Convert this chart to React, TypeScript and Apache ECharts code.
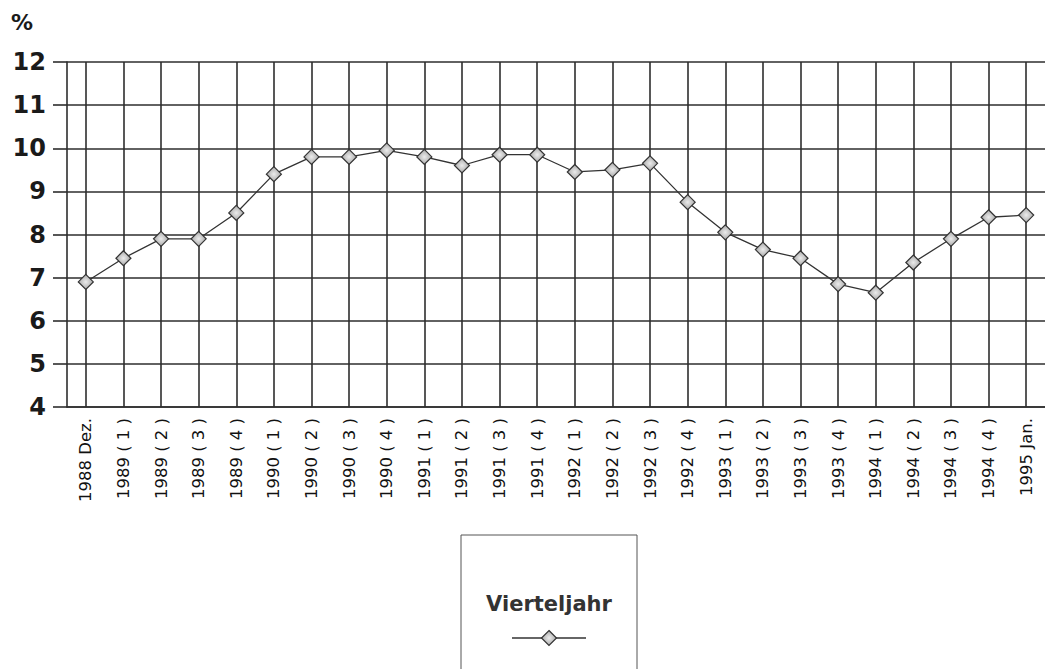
import React, { useEffect, useRef } from "react";
import * as echarts from "echarts";

const categories: string[] = [
  "1988 Dez.",
  "1989 ( 1 )", "1989 ( 2 )", "1989 ( 3 )", "1989 ( 4 )",
  "1990 ( 1 )", "1990 ( 2 )", "1990 ( 3 )", "1990 ( 4 )",
  "1991 ( 1 )", "1991 ( 2 )", "1991 ( 3 )", "1991 ( 4 )",
  "1992 ( 1 )", "1992 ( 2 )", "1992 ( 3 )", "1992 ( 4 )",
  "1993 ( 1 )", "1993 ( 2 )", "1993 ( 3 )", "1993 ( 4 )",
  "1994 ( 1 )", "1994 ( 2 )", "1994 ( 3 )", "1994 ( 4 )",
  "1995 Jan.",
];

const vierteljahr: number[] = [
  6.9,
  7.45, 7.9, 7.9, 8.5,
  9.4, 9.8, 9.8, 9.95,
  9.8, 9.6, 9.85, 9.85,
  9.45, 9.5, 9.65, 8.75,
  8.05, 7.65, 7.45, 6.85,
  6.65, 7.35, 7.9, 8.4,
  8.45,
];

const seriesName = "Vierteljahr";
const unitLabel = "%";

const gridColor = "#2e2e2e";
const markerFill = {
  type: "radial" as const,
  x: 0.5,
  y: 0.5,
  r: 0.5,
  colorStops: [
    { offset: 0, color: "#ececec" },
    { offset: 1, color: "#a8a8a8" },
  ],
};

export default function App() {
  const ref = useRef<HTMLDivElement>(null);

  useEffect(() => {
    if (!ref.current) return;
    const chart = echarts.init(ref.current, null, { renderer: "svg" });
    const font = "'DejaVu Sans', Arial, sans-serif";
    const legX = 549;
    const legY = 638;
    chart.setOption({
      animation: false,
      backgroundColor: "#ffffff",
      grid: { left: 67, top: 62, width: 980, height: 345, containLabel: false },
      xAxis: {
        type: "category",
        data: categories,
        boundaryGap: true,
        axisLine: { show: true, lineStyle: { color: gridColor, width: 1.6 } },
        axisTick: {
          show: true,
          inside: true,
          length: 345,
          alignWithLabel: true,
          interval: 0,
          lineStyle: { color: gridColor, width: 1.6 },
        },
        splitLine: { show: false },
        axisLabel: {
          interval: 0,
          rotate: 90,
          margin: 11,
          fontSize: 16.5,
          fontFamily: font,
          color: "#111",
        },
      },
      yAxis: {
        type: "value",
        min: 4,
        max: 12,
        interval: 1,
        axisLine: { show: true, lineStyle: { color: gridColor, width: 1.6 } },
        axisTick: { show: true, length: 14, lineStyle: { color: gridColor, width: 1.6 } },
        splitLine: { show: true, lineStyle: { color: gridColor, width: 1.6 } },
        axisLabel: {
          margin: 21,
          fontSize: 24,
          fontWeight: "bold",
          fontFamily: font,
          color: "#1a1a1a",
        },
      },
      series: [
        {
          name: seriesName,
          type: "line",
          data: vierteljahr,
          symbol: "diamond",
          symbolSize: 15,
          lineStyle: { color: "#333", width: 1.3 },
          itemStyle: { color: markerFill, borderColor: "#333", borderWidth: 1.2 },
          z: 5,
        },
      ],
      graphic: [
        {
          type: "text",
          left: 11,
          top: 11,
          style: { text: unitLabel, font: `bold 22px ${font}`, fill: "#1a1a1a" },
        },
        {
          type: "rect",
          shape: { x: 461, y: 535, width: 176, height: 150 },
          style: { fill: "none", stroke: "#555", lineWidth: 1 },
        },
        {
          type: "text",
          x: legX,
          y: 604,
          style: {
            text: seriesName,
            font: `bold 21px ${font}`,
            fill: "#333",
            align: "center",
            verticalAlign: "middle",
          },
        },
        {
          type: "line",
          shape: { x1: legX - 37, y1: legY, x2: legX + 37, y2: legY },
          style: { stroke: "#333", lineWidth: 1.3 },
        },
        {
          type: "polygon",
          shape: {
            points: [
              [legX, legY - 7.5],
              [legX + 7.5, legY],
              [legX, legY + 7.5],
              [legX - 7.5, legY],
            ],
          },
          style: { fill: markerFill, stroke: "#333", lineWidth: 1.2 },
        },
      ],
    });
    return () => chart.dispose();
  }, []);

  return (
    <div
      ref={ref}
      style={{ position: "absolute", left: 0, top: 0, width: 1045, height: 669 }}
    />
  );
}
